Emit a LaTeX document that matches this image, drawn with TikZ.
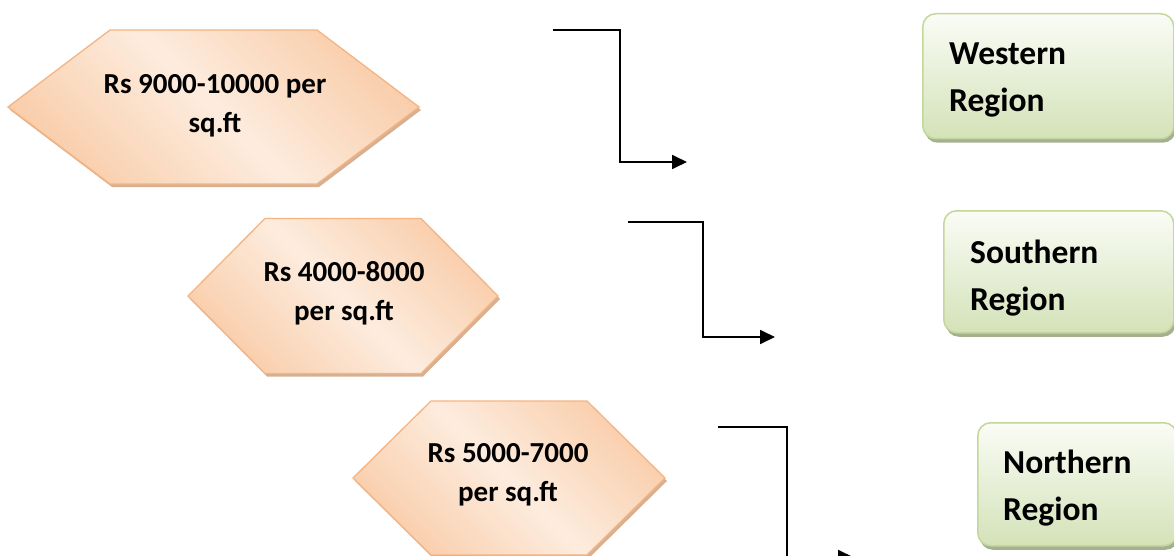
\documentclass[tikz,border=0pt]{standalone}
\usepackage{fontspec}
\setmainfont{Carlito}
\usetikzlibrary{arrows.meta,shadows}
\definecolor{hexdark}{RGB}{248,198,158}
\definecolor{hexlight}{RGB}{253,236,222}
\definecolor{hexborder}{RGB}{245,180,130}
\definecolor{hexshadow}{RGB}{200,150,110}
\definecolor{regtop}{RGB}{250,252,246}
\definecolor{regbot}{RGB}{212,226,184}
\definecolor{regborder}{RGB}{196,215,155}
\definecolor{regshadow}{RGB}{150,162,128}
\pgfdeclarehorizontalshading{hexshade}{100bp}{color(0bp)=(hexdark); color(18bp)=(hexdark); color(50bp)=(hexlight); color(82bp)=(hexdark); color(100bp)=(hexdark)}
% #1 cx, #2 cy, #3 half width, #4 inset, #5 half height
\newcommand{\hexshape}[5]{%
  \fill[hexshadow, opacity=0.75, xshift=2pt, yshift=-3pt] (#1-#3,#2) -- (#1-#3+#4,#2-#5) -- (#1+#3-#4,#2-#5) -- (#1+#3,#2) -- (#1+#3-#4,#2+#5) -- (#1-#3+#4,#2+#5) -- cycle;
  \shadedraw[hexfill] (#1-#3,#2) -- (#1-#3+#4,#2-#5) -- (#1+#3-#4,#2-#5) -- (#1+#3,#2) -- (#1+#3-#4,#2+#5) -- (#1-#3+#4,#2+#5) -- cycle;}
\tikzset{
  hexfill/.style={shading=hexshade, shading angle=45, draw=hexborder, line width=1.3pt},
  hextext/.style={inner sep=0pt, align=center, font=\fontsize{29}{39}\selectfont\bfseries},
  regbox/.style={rectangle, rounded corners=13pt, draw=regborder, line width=1.5pt,
    top color=regtop, bottom color=regbot, anchor=north west, inner sep=0pt,
    drop shadow={shadow xshift=2pt, shadow yshift=-4pt, fill=regshadow, opacity=0.85}},
  regtext/.style={inner sep=0pt, align=left, anchor=north west, font=\fontsize{33.5}{47}\selectfont\bfseries},
  conn/.style={line width=1.8pt, -{Triangle[length=15pt,width=14pt]}}
}
\begin{document}
\begin{tikzpicture}[x=1pt,y=-1pt]
\clip (0,0) rectangle (1174,556);
\fill[white] (0,0) rectangle (1174,556);
% hexagons
\hexshape{213.5}{107}{205.5}{102}{77}
\hexshape{343}{296}{155}{77}{77.5}
\hexshape{509}{478}{156}{78}{77}
\node[hextext] (h1) at (215,106) {Rs 9000-10000 per\\sq.ft};
\node[hextext] (h2) at (344,293) {Rs 4000-8000\\per sq.ft};
\node[hextext] (h3) at (508,475) {Rs 5000-7000\\per sq.ft};
% region boxes
\node[regbox, minimum width=251pt, minimum height=125pt] (west) at (922,13) {};
\node[regbox, minimum width=230pt, minimum height=122pt] (south) at (943,210) {};
\node[regbox, minimum width=199pt, minimum height=123pt] (north) at (977,422) {};
\node[regtext] (wt) at (949,43) {Western\\Region};
\node[regtext] (st) at (970,240) {Southern\\Region};
\node[regtext] (nt) at (1003,450) {Northern\\Region};
% connectors
\coordinate (a1s) at (553,30);
\coordinate (a1e) at (687,162);
\coordinate (a2s) at (628,222);
\coordinate (a2e) at (775,337);
\coordinate (a3s) at (718,427);
\coordinate (a3e) at (853,557);
\draw[conn] (a1s) -- ++(67,0) |- (a1e);
\draw[conn] (a2s) -- ++(75,0) |- (a2e);
\draw[conn] (a3s) -- ++(69,0) |- (a3e);
\end{tikzpicture}
\end{document}
